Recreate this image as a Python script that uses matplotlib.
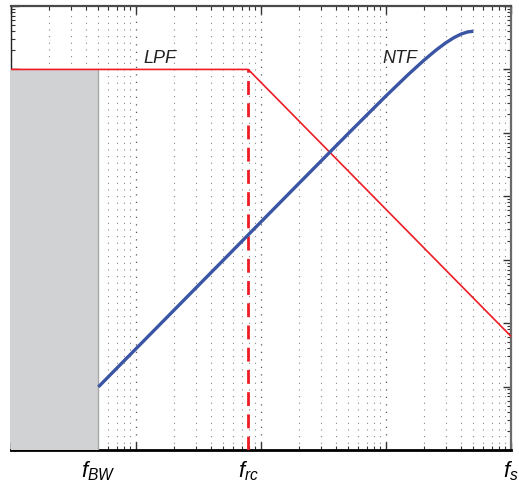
import numpy as np
import matplotlib
matplotlib.use('Agg')
import matplotlib.pyplot as plt
from matplotlib.ticker import LogLocator, NullFormatter
import matplotlib.transforms as mtransforms

plt.rcParams['font.family'] = ['Liberation Sans', 'DejaVu Sans']
plt.rcParams['mathtext.fontset'] = 'custom'
plt.rcParams['mathtext.it'] = 'Liberation Sans:italic'
plt.rcParams['mathtext.rm'] = 'Liberation Sans'

# frequencies of interest
f_bw = 5
f_rc = 79
f_s = 10000
tick_pos = [f_bw, f_rc, f_s]
tick_labels = ['$f_{BW}$', '$f_{rc}$', '$f_s$']

# LPF response
lpf_f = [1, 79, 10000]
lpf_mag = [1.0, 1.0, 6.2e-5]

# NTF response
ntf_f = [5, 10, 20, 50, 100, 200, 500, 1000, 1500, 2000, 2500, 3000, 3500, 4000, 4500, 5000]
ntf_mag = [9.87e-6, 3.95e-5, 1.58e-4, 9.87e-4, 3.95e-3, 1.58e-2, 0.0979, 0.382, 0.824,
           1.382, 2.0, 2.618, 3.176, 3.618, 3.902, 4.0]

xlim = (1, 10000)
ylim = (1e-6, 10)

fig = plt.figure(figsize=(5.19, 4.83), dpi=100)
ax = fig.add_axes([11/519, 1 - 450/483, 500/519, 444/483])
ax.set_xscale('log')
ax.set_yscale('log')
ax.set_xlim(xlim)
ax.set_ylim(ylim)

# gray band below f_BW, up to the LPF passband
ax.fill_between([xlim[0], f_bw], [ylim[0], ylim[0]], [lpf_mag[0], lpf_mag[0]],
                facecolor='#d1d2d4', edgecolor='none', zorder=3)
ax.plot([f_bw, f_bw], [ylim[0], lpf_mag[0]], color='#a8a9ab', lw=1, zorder=3)

# curves
ax.plot(lpf_f, lpf_mag, color='#ee1c25', lw=1.2, zorder=4)
ax.plot(ntf_f, ntf_mag, color='#3a55a4', lw=2.4, zorder=5, solid_capstyle='butt')
ax.plot([f_rc, f_rc], [ylim[0], lpf_mag[1]], color='#ee1c25', lw=2, ls=(0, (5, 3)), zorder=4)

ax.text(15.6, 1.5, 'LPF', fontsize=13, style='italic', ha='center', va='center', color='#222222')
ax.text(1294, 1.5, 'NTF', fontsize=13, style='italic', ha='center', va='center', color='#222222')

# ticks
ax.xaxis.set_major_locator(LogLocator(base=10, numticks=10))
ax.xaxis.set_minor_locator(LogLocator(base=10, subs=np.arange(2, 10), numticks=20))
ax.yaxis.set_major_locator(LogLocator(base=10, numticks=10))
ax.yaxis.set_minor_locator(LogLocator(base=10, subs=np.arange(2, 10), numticks=20))
for a in (ax.xaxis, ax.yaxis):
    a.set_major_formatter(NullFormatter())
    a.set_minor_formatter(NullFormatter())
ax.tick_params(which='both', direction='in', top=True, right=True, color='#333333')
ax.tick_params(which='major', length=6, width=1)
ax.tick_params(which='minor', length=3, width=0.8)

# dotted vertical grid
ax.grid(True, which='major', axis='x', ls=(0, (1, 5)), color='#555555', lw=0.9)
ax.grid(True, which='minor', axis='x', ls=(0, (1, 5)), color='#888888', lw=0.8)
ax.set_axisbelow(True)

# custom tick labels
trans = mtransforms.blended_transform_factory(ax.transData, ax.transAxes)
for xp, lab in zip(tick_pos, tick_labels):
    ax.text(xp, -0.022, lab, transform=trans, ha='center', va='top', fontsize=16)

ax.spines['bottom'].set_linewidth(2)
ax.spines['bottom'].set_color('black')
ax.spines['top'].set_linewidth(1.6)
ax.spines['top'].set_color('#4a4a4a')
ax.spines['right'].set_linewidth(1.6)
ax.spines['right'].set_color('#6a6a6a')
ax.spines['left'].set_linewidth(1)
ax.spines['left'].set_color('#222222')

fig.savefig('out.png', dpi=100)
